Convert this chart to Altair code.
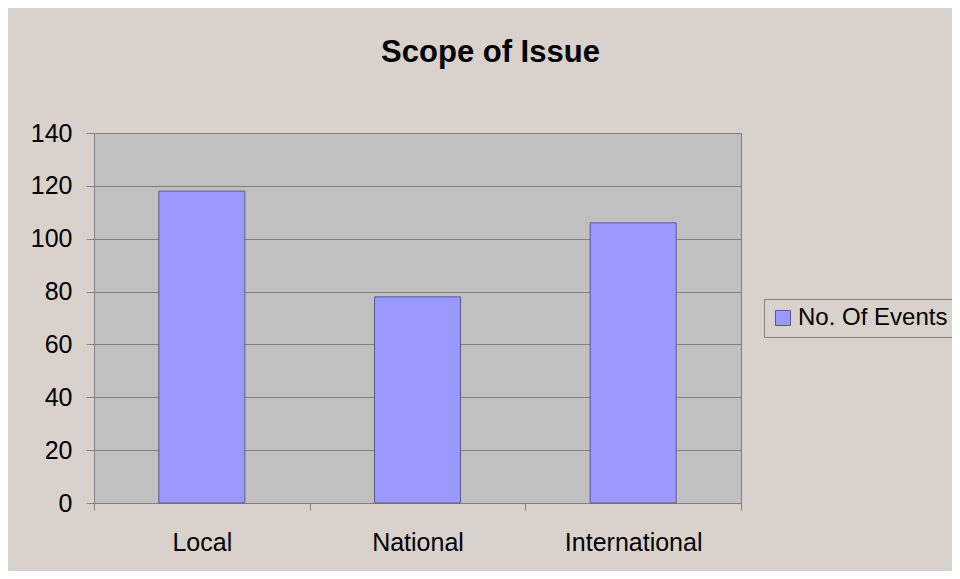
import altair as alt
import pandas as pd

categories = ["Local", "National", "International"]
values = [118, 78, 106]
series = ["No. Of Events"] * 3

df = pd.DataFrame({"scope": categories, "events": values, "series": series})

font = "Liberation Sans"

chart = alt.Chart(df).mark_bar(
    size=86, stroke="#5a5a8a", strokeWidth=1
).encode(
    x=alt.X("scope:N", sort=categories, title=None,
            scale=alt.Scale(paddingInner=0, paddingOuter=0),
            axis=alt.Axis(labelAngle=0, tickBand="extent", tickSize=7, labelPadding=20,
                          labelFontSize=25, labelFont=font, labelColor="#000000",
                          domainColor="#808080", tickColor="#808080", grid=False)),
    y=alt.Y("events:Q", title=None,
            scale=alt.Scale(domain=[0, 140], nice=False),
            axis=alt.Axis(values=[0, 20, 40, 60, 80, 100, 120, 140], tickSize=8,
                          labelPadding=14, labelFontSize=25, labelFont=font,
                          labelColor="#000000", domainColor="#808080",
                          tickColor="#808080", grid=True, gridColor="#808080",
                          gridOpacity=1)),
    color=alt.Color("series:N", scale=alt.Scale(domain=["No. Of Events"], range=["#9999ff"]),
                    legend=alt.Legend(title=None, orient="none", legendX=670, legendY=166,
                                      symbolType="square", symbolSize=225,
                                      symbolStrokeColor="#5a5a8a", symbolStrokeWidth=1,
                                      labelFontSize=24, labelFont=font, labelColor="#000000",
                                      labelOffset=3,
                                      strokeColor="#808080", padding=7,
                                      labelLimit=400)),
).properties(
    width=647,
    height=370,
    title=alt.TitleParams("Scope of Issue", fontSize=31, font=font, fontWeight="bold",
                          color="#000000", anchor="middle", dx=73, offset=52),
    background="#d9d1cb",
    padding={"left": 86, "top": 125, "right": 211, "bottom": 68},
    autosize=alt.AutoSizeParams(type="none"),
).configure_view(
    fill="#c0c0c0", stroke="#808080", strokeWidth=1
)

chart.save("out.html", embed_options={"renderer": "svg", "actions": False})
